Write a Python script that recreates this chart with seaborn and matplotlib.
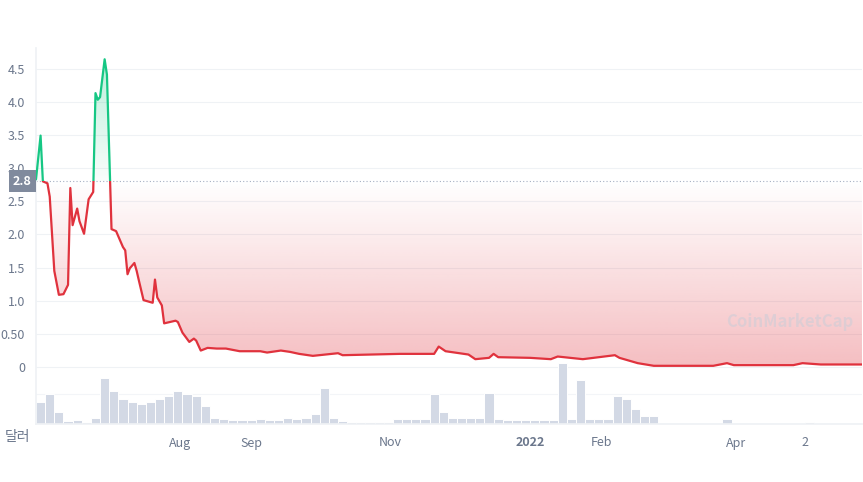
import numpy as np
import pandas as pd
import seaborn as sns
import matplotlib.pyplot as plt
from matplotlib.patches import Rectangle
from matplotlib.colors import to_rgb

# price readings: days since 2021-05-30 and USD price
days = [0, 2, 3, 5, 6, 8, 10, 12, 14, 15, 16, 18, 19, 21, 23, 25, 26, 27, 28, 30,
        31, 33, 35, 38, 39, 40, 41, 43, 44, 45, 47, 51, 52, 53, 55, 56, 61, 62, 64, 67,
        69, 70, 72, 75, 79, 83, 89, 98, 101, 107, 111, 115, 121, 132, 134, 159, 174, 176, 179, 189,
        192, 198, 200, 202, 216, 225, 228, 239, 253, 255, 263, 270, 296, 302, 305, 331, 335, 343, 361]
price = [2.83, 3.49, 2.80, 2.77, 2.57, 1.45, 1.09, 1.10, 1.24, 2.70, 2.14, 2.39, 2.20, 2.01, 2.53, 2.64, 4.13, 4.03, 4.07, 4.64,
         4.41, 2.08, 2.05, 1.81, 1.76, 1.40, 1.49, 1.57, 1.45, 1.30, 1.01, 0.97, 1.32, 1.05, 0.93, 0.66, 0.70, 0.68, 0.52, 0.38,
         0.43, 0.40, 0.25, 0.29, 0.28, 0.28, 0.24, 0.24, 0.22, 0.25, 0.23, 0.20, 0.17, 0.21, 0.18, 0.20, 0.20, 0.31, 0.24, 0.19,
         0.12, 0.14, 0.20, 0.15, 0.14, 0.12, 0.16, 0.12, 0.18, 0.14, 0.06, 0.02, 0.02, 0.06, 0.03, 0.03, 0.06, 0.04, 0.04]

# volume in 4-day bins (relative heights)
vol_days = list(range(0, 361, 4))
volume = [22, 30, 12, 3, 4, 2, 6, 45, 32, 25, 22, 20, 22, 25, 28, 32, 30, 28, 18, 6,
          5, 4, 4, 4, 5, 4, 4, 6, 5, 6, 10, 35, 6, 3, 2, 2, 2, 2, 2, 5,
          5, 5, 5, 30, 12, 6, 6, 6, 6, 31, 5, 4, 4, 4, 4, 4, 4, 60, 5, 43,
          5, 5, 5, 28, 25, 15, 8, 8, 1, 1, 1, 1, 1, 1, 1, 5, 1, 1, 1, 1,
          1, 1, 1, 1, 2, 1, 1, 1, 1, 1, 1]

start_price = 2.8
tick_days = [63, 94, 155, 216, 247, 306, 336]
tick_labels = ["Aug", "Sep", "Nov", "2022", "Feb", "Apr", "2"]
y_ticks = [0, 0.5, 1.0, 1.5, 2.0, 2.5, 3.0, 3.5, 4.0, 4.5]
y_labels = ["0", "0.50", "1.0", "1.5", "2.0", "2.5", "3.0", "3.5", "4.0", "4.5"]

RED = "#e0323d"
GREEN = "#16c784"
GREY = "#6b778c"

df = pd.DataFrame({"day": days, "price": price})

sns.set_theme(style="white")
plt.rcParams["font.family"] = ["Noto Sans CJK KR", "DejaVu Sans"]

fig = plt.figure(figsize=(8.63, 4.82), dpi=100)
ax = fig.add_axes([36 / 863, 58 / 482, 826 / 863, 376 / 482])
ymin, ymax = -0.857, 4.81
ax.set_xlim(0, 361)
ax.set_ylim(ymin, ymax)

for t in y_ticks:
    ax.axhline(t, color="#eff2f5", lw=0.8, zorder=0)

# gradient fills, clipped to the area between line and start price
red_grad = np.zeros((256, 2, 4))
red_grad[..., :3] = to_rgb(RED)
red_grad[..., 3] = np.linspace(0.32, 0.0, 256)[:, None]
im = ax.imshow(red_grad, extent=[0, 361, 0, start_price], origin="lower", aspect="auto", zorder=1)
poly = ax.fill_between(df["day"], np.minimum(df["price"], start_price), start_price, color="none", lw=0)
im.set_clip_path(poly.get_paths()[0], transform=ax.transData)

green_grad = np.zeros((256, 2, 4))
green_grad[..., :3] = to_rgb(GREEN)
green_grad[..., 3] = np.linspace(0.03, 0.3, 256)[:, None]
img = ax.imshow(green_grad, extent=[0, 361, start_price, 4.7], origin="lower", aspect="auto", zorder=1)
polyg = ax.fill_between(df["day"], np.maximum(df["price"], start_price), start_price, color="none", lw=0)
img.set_clip_path(polyg.get_paths()[0], transform=ax.transData)

# line split at the start price
sns.lineplot(data=df, x="day", y="price", color=RED, lw=1.6, ax=ax, zorder=3)
sns.lineplot(data=df, x="day", y="price", color=GREEN, lw=1.6, ax=ax, zorder=4)
lines = ax.get_lines()
lines[-2].set_clip_path(Rectangle((0, ymin), 361, start_price - ymin, transform=ax.transData))
lines[-1].set_clip_path(Rectangle((0, start_price), 361, ymax - start_price, transform=ax.transData))

ax.axhline(start_price, color="#a6b0c3", lw=0.8, ls=(0, (1, 2)), zorder=2)

# volume bars
ax.bar(vol_days, np.array(volume) / 65.3, width=4, bottom=ymin, align="edge",
       color="#d3d9e5", edgecolor="white", lw=0.7, zorder=1)
ax.axhline(ymin + 30 / 65.3, color="#f3f5f8", lw=0.8, zorder=0)

ax.set_yticks(y_ticks)
ax.set_yticklabels(y_labels, color=GREY, fontsize=9)
ax.set_xticks(tick_days)
ax.set_xticklabels(tick_labels, color=GREY, fontsize=9)
ax.get_xticklabels()[3].set_fontweight("bold")
ax.tick_params(axis="y", length=0, pad=8)
ax.tick_params(axis="x", length=3, color="#cfd6e4", pad=6)
ax.set_xlabel("")
ax.set_ylabel("")
for s in ["top", "right"]:
    ax.spines[s].set_visible(False)
ax.spines["left"].set_color("#eff2f5")
ax.spines["bottom"].set_color("#eff2f5")

ax.text(-0.005, start_price, "2.8", transform=ax.get_yaxis_transform(), ha="right", va="center",
        fontsize=9, color="white", fontweight="bold",
        bbox=dict(boxstyle="square,pad=0.35", fc="#808a9d", ec="none"), zorder=6, clip_on=False)
fig.text(5 / 863, 1 - 437 / 482, "달러", color=GREY, fontsize=10, va="center")
ax.text(0.99, 0.27, "CoinMarketCap", transform=ax.transAxes, ha="right", va="center",
        fontsize=12, color="#c7cdd8", alpha=0.5, fontweight="bold")

plt.savefig("out.png", dpi=100)
